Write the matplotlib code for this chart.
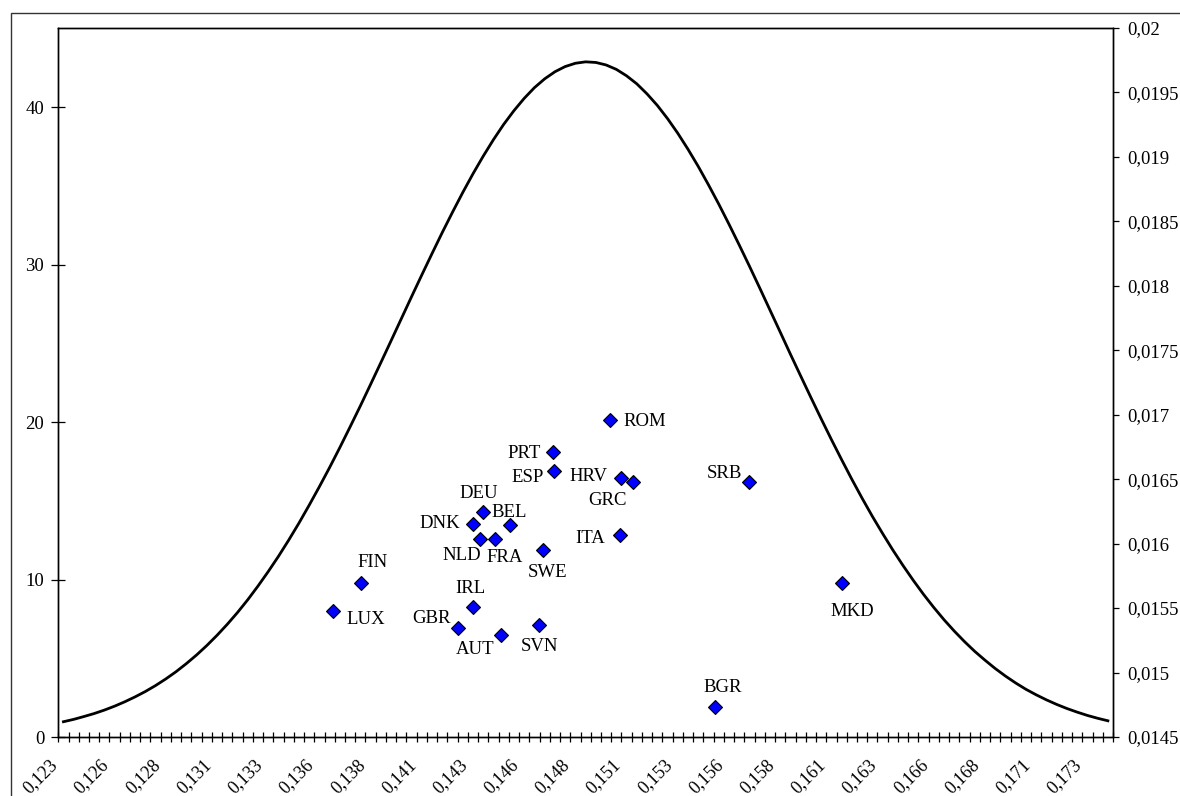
import numpy as np
import matplotlib
matplotlib.use("Agg")
import matplotlib.pyplot as plt
import matplotlib.ticker as ticker
from matplotlib.patches import Rectangle
from matplotlib.transforms import ScaledTranslation

plt.rcParams["font.family"] = ["Liberation Serif", "DejaVu Serif"]

# ── Data ──────────────────────────────────────────────────────────────────────
# category axis: 103 steps of 0.0005 starting at 0.123
x_start, x_step, n_cat = 0.123, 0.0005, 103
categories = x_start + x_step * np.arange(n_cat)

tick_labels = ["0,123", "0,126", "0,128", "0,131", "0,133", "0,136", "0,138",
               "0,141", "0,143", "0,146", "0,148", "0,151", "0,153", "0,156",
               "0,158", "0,161", "0,163", "0,166", "0,168", "0,171", "0,173"]

density = [
    0.97, 1.12, 1.30, 1.49, 1.71, 1.96, 2.24, 2.55, 2.89, 3.27,
    3.69, 4.15, 4.66, 5.21, 5.81, 6.46, 7.16, 7.91, 8.72, 9.59,
    10.51, 11.48, 12.51, 13.59, 14.73, 15.91, 17.13, 18.40, 19.71, 21.04,
    22.41, 23.79, 25.18, 26.58, 27.98, 29.36, 30.72, 32.06, 33.35, 34.60,
    35.79, 36.91, 37.96, 38.93, 39.80, 40.58, 41.26, 41.82, 42.27, 42.60,
    42.81, 42.90, 42.86, 42.70, 42.42, 42.01, 41.50, 40.86, 40.13, 39.29,
    38.36, 37.34, 36.25, 35.08, 33.86, 32.58, 31.26, 29.91, 28.53, 27.13,
    25.73, 24.32, 22.94, 21.57, 20.22, 18.90, 17.62, 16.37, 15.17, 14.02,
    12.93, 11.88, 10.89, 9.95, 9.06, 8.23, 7.45, 6.73, 6.06, 5.44,
    4.88, 4.35, 3.87, 3.43, 3.03, 2.68, 2.36, 2.07, 1.81, 1.58,
    1.37, 1.19, 1.03,
]

countries = ["ROM", "PRT", "ESP", "HRV", "GRC", "DEU", "DNK", "BEL", "NLD", "FRA",
             "ITA", "SWE", "FIN", "IRL", "LUX", "GBR", "AUT", "SVN", "SRB", "MKD", "BGR"]
country_x = [0.14971, 0.14692, 0.14697, 0.15025, 0.15083, 0.14348, 0.14301,
             0.14483, 0.14333, 0.14407, 0.15018, 0.14642, 0.13755, 0.14301,
             0.13618, 0.14226, 0.14438, 0.14622, 0.15648, 0.16104, 0.15483]
country_y = [0.016959, 0.016709, 0.016563, 0.016507, 0.016476, 0.016243, 0.016155,
             0.016147, 0.016038, 0.016038, 0.016069, 0.015948, 0.015697, 0.015508,
             0.015477, 0.015346, 0.015289, 0.015366, 0.016476, 0.015695, 0.014733]

# label offsets (pixels, text centre relative to marker; +y is down on screen)
LABEL_OFFSETS = {
    "ROM": (34, 1), "PRT": (-29, 1), "ESP": (-27, 6), "HRV": (-33, -2),
    "GRC": (-26, 18), "DEU": (-4, -19), "DNK": (-33, 0), "BEL": (-1, -12),
    "NLD": (-18, 17), "FRA": (10, 19), "ITA": (-30, 4), "SWE": (5, 22),
    "FIN": (11, -20), "IRL": (-3, -19), "LUX": (32, 8), "GBR": (-26, -9),
    "AUT": (-26, 14), "SVN": (1, 21), "SRB": (-25, -9), "MKD": (10, 29),
    "BGR": (7, -19),
}


def comma_fmt(v, _pos):
    s = f"{v:.4f}".rstrip("0").rstrip(".")
    return s.replace(".", ",")


# ── Figure ────────────────────────────────────────────────────────────────────
W, H = 1180, 796
fig = plt.figure(figsize=(W / 100, H / 100), dpi=100)
fig.patch.set_facecolor("white")
ax = fig.add_axes([58.3 / W, 1 - 737 / H, (1113 - 58.3) / W, (737 - 28) / H])

ax.plot(categories, density, color="black", linewidth=2.0, zorder=3)

ax.set_xlim(x_start - x_step / 2, x_start + x_step * (n_cat - 0.5))
ax.set_ylim(0, 45.05)
ax.set_yticks([0, 10, 20, 30, 40])

ax.set_xticks(categories[::5])
ax.set_xticklabels(tick_labels, rotation=45, ha="right", va="center",
                   rotation_mode="anchor", fontsize=13)
ax.set_xticks(x_start - x_step / 2 + x_step * np.arange(n_cat + 1), minor=True)
ax.tick_params(axis="x", which="major", length=0, pad=18)
ax.tick_params(axis="x", which="minor", direction="inout", length=7.2, width=0.9)
ax.tick_params(axis="y", which="major", direction="inout", length=9.4, width=0.9,
               labelsize=13.5, pad=5.5)
for lbl in ax.get_xticklabels():
    lbl.set_transform(lbl.get_transform() + ScaledTranslation(-8.4 / 100, 0, fig.dpi_scale_trans))

for sp in ax.spines.values():
    sp.set_linewidth(1.0)
    sp.set_color("black")

# secondary axis for the country points
ax2 = ax.twinx()
ax2.set_ylim(0.0145, 0.02)
ax2.yaxis.set_major_locator(ticker.MultipleLocator(0.0005))
ax2.yaxis.set_major_formatter(ticker.FuncFormatter(comma_fmt))
ax2.tick_params(axis="y", direction="out", length=4.3, width=0.9, labelsize=13.5, pad=6)
for sp in ax2.spines.values():
    sp.set_linewidth(1.0)

ax2.plot(country_x, country_y, linestyle="none", marker="D", markersize=7.3,
         markerfacecolor="#0000FF", markeredgecolor="black", markeredgewidth=0.8,
         zorder=4)

for name, xv, yv in zip(countries, country_x, country_y):
    dx, dy = LABEL_OFFSETS[name]
    ax2.annotate(name, (xv, yv), xytext=(dx, -dy), textcoords="offset pixels",
                 ha="center", va="center", fontsize=13.5, color="black")

# outer chart border (cut at right and bottom edges)
fig.add_artist(Rectangle((11 / W, -0.05), 1.2, (H - 13) / H + 0.05,
                         transform=fig.transFigure, fill=False,
                         edgecolor="#333333", linewidth=1.0, clip_on=False))

fig.savefig("out.png", dpi=100)
